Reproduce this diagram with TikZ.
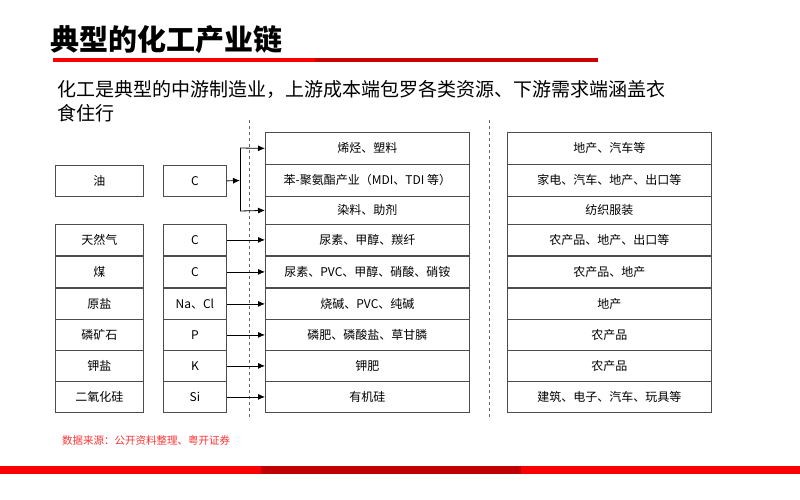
\documentclass[tikz,border=0pt]{standalone}
\usepackage{fontspec}
\setmainfont{Liberation Serif}
\newfontfamily\cjk{Noto Sans CJK SC}
\usetikzlibrary{positioning,arrows.meta}
\definecolor{hongse}{RGB}{250,0,0}
\definecolor{anhong}{RGB}{192,0,0}
\begin{document}
\begin{tikzpicture}[x=1pt,y=-1pt,
  kuang/.style={draw=black!70, thick, minimum height=#1, inner sep=0pt, font=\cjk\fontsize{12}{12}\selectfont, anchor=north west},
  kuang/.default=31pt,
  jian/.style={thick, -{Latex[length=7pt,width=6pt]}}]
\useasboundingbox (0,0) rectangle (800,500);
\node[font=\cjk\bfseries\fontsize{29}{29}\selectfont, anchor=west, inner sep=0pt] (biaoti) at (50,40) {典型的化工产业链};
\fill[hongse] (53,58.5) rectangle (315,62);
\fill[anhong!85!hongse] (315,58.5) rectangle (598,62);
\node[font=\cjk\fontsize{19}{24}\selectfont, anchor=north west, align=left, text width=700pt, inner sep=0pt] (shuoming) at (57,80)
  {化工是典型的中游制造业，上游成本端包罗各类资源、下游需求端涵盖衣\\食住行};
\draw[dashed, thick, black!60] (249,120) -- (249,420);
\draw[dashed, thick, black!60] (489,120) -- (489,420);
% upper group
\newcommand\zhong[3]{
\node[kuang=#3, minimum width=204pt] (z#1) at (265,#2) {#1};
}
\newcommand\xia[3]{
\node[kuang=#3, minimum width=204pt] (x#1) at (507,#2) {#1};
}
\zhong{烯烃、塑料}{132}{32pt}
\zhong{苯-聚氨酯产业（MDI、TDI 等）}{164}{32pt}
\zhong{染料、助剂}{196}{28pt}
\xia{地产、汽车等}{132}{32pt}
\xia{家电、汽车、地产、出口等}{164}{32pt}
\xia{纺织服装}{196}{28pt}
\node[kuang=31pt, minimum width=88pt] (you) at (55,165) {油};
\node[kuang=31pt, minimum width=63pt] (youC) at (163,165) {C};
\coordinate (fenzhi) at (240,180.5);
\draw[jian] (youC.east) -- (fenzhi);
\draw[jian] (240,148) -- (z烯烃、塑料.west);
\draw[thick] (240,148) -- (240,211);
\draw[jian] (240,211) -- (z染料、助剂.west);
% single rows
\newcommand\hang[5]{
\node[kuang=31pt, minimum width=88pt] (y#1) at (55,#1) {#2};
\node[kuang=31pt, minimum width=63pt] (c#1) at (163,#1) {#3};
\node[kuang=31pt, minimum width=204pt] (m#1) at (265,#1) {#4};
\node[kuang=31pt, minimum width=204pt] (d#1) at (507,#1) {#5};
\draw[jian] (c#1.east) -- (m#1.west);
}
\hang{224}{天然气}{C}{尿素、甲醇、羰纤}{农产品、地产、出口等}
\hang{256}{煤}{C}{尿素、PVC、甲醇、硝酸、硝铵}{农产品、地产}
\hang{288}{原盐}{Na、Cl}{烧碱、PVC、纯碱}{地产}
\hang{319}{磷矿石}{P}{磷肥、磷酸盐、草甘膦}{农产品}
\hang{350}{钾盐}{K}{钾肥}{农产品}
\hang{381}{二氧化硅}{Si}{有机硅}{建筑、电子、汽车、玩具等}
\node[font=\cjk\itshape\fontsize{10.5}{10.5}\selectfont, text=hongse!80, anchor=west, inner sep=0pt] (laiyuan) at (62,440) {数据来源：公开资料整理、粤开证券};
\fill[hongse] (0,466) rectangle (800,474);
\fill[anhong] (261,466) rectangle (521,474);
\end{tikzpicture}
\end{document}
